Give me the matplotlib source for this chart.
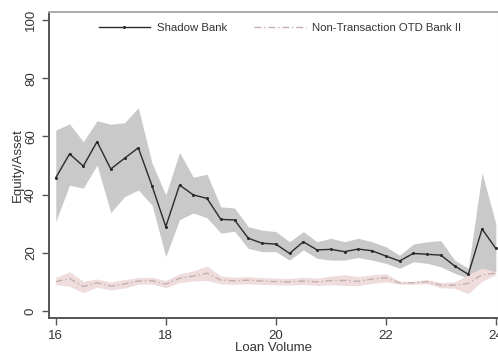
import numpy as np
import matplotlib
matplotlib.use("Agg")
import matplotlib.pyplot as plt

plt.rcParams['font.family'] = ['Liberation Sans', 'DejaVu Sans']

# loan volume grid
loan = [16.0, 16.25, 16.5, 16.75, 17.0, 17.25, 17.5, 17.75, 18.0, 18.25, 18.5,
        18.75, 19.0, 19.25, 19.5, 19.75, 20.0, 20.25, 20.5, 20.75, 21.0, 21.25,
        21.5, 21.75, 22.0, 22.25, 22.5, 22.75, 23.0, 23.25, 23.5, 23.75, 24.0]

# shadow bank: estimate and confidence band
shadow = [45.8, 54.0, 49.8, 58.2, 48.8, 52.5, 56.1, 43.0, 29.0, 43.3, 39.9,
          38.7, 31.5, 31.3, 25.0, 23.3, 23.0, 19.8, 23.8, 21.0, 21.2, 20.4,
          21.3, 20.7, 18.9, 17.2, 19.8, 19.5, 19.2, 15.5, 12.6, 28.2, 21.5]
shadow_hi = [62.2, 64.3, 58.2, 65.4, 64.2, 64.7, 69.9, 50.8, 39.9, 54.5, 46.0,
             47.0, 35.8, 35.4, 29.0, 27.8, 27.3, 23.8, 27.3, 23.8, 25.0, 23.8,
             25.0, 23.8, 22.1, 19.2, 23.0, 23.8, 24.2, 17.5, 14.7, 47.5, 30.0]
shadow_lo = [30.7, 43.3, 42.2, 50.2, 33.8, 39.3, 41.6, 36.4, 18.7, 31.4, 33.7,
             32.0, 26.8, 27.4, 21.5, 20.4, 20.4, 17.5, 21.0, 18.1, 17.5, 17.5,
             18.4, 17.5, 16.4, 14.7, 16.9, 16.4, 15.2, 13.0, 11.2, 11.8, 13.7]

# non-transaction OTD bank II
otd = [10.1, 11.2, 8.4, 9.7, 8.6, 9.3, 10.3, 10.4, 9.2, 11.2, 12.0,
       13.0, 10.6, 10.4, 10.6, 10.3, 10.1, 10.0, 10.3, 10.0, 10.5, 10.5,
       10.2, 11.0, 11.4, 9.7, 9.7, 10.1, 8.9, 8.9, 9.5, 12.5, 13.0]
otd_hi = [11.5, 13.5, 10.2, 11.0, 10.0, 10.8, 11.5, 11.6, 10.5, 12.8, 13.8,
          15.5, 12.0, 11.6, 11.8, 11.5, 11.3, 11.2, 11.6, 11.3, 12.0, 12.5,
          11.8, 12.5, 12.8, 10.2, 10.2, 10.8, 9.8, 10.0, 12.5, 14.8, 13.5]
otd_lo = [9.0, 8.5, 6.3, 8.2, 7.2, 7.9, 9.2, 9.3, 8.0, 9.8, 10.3,
          10.5, 9.3, 9.2, 9.4, 9.1, 9.0, 8.9, 9.1, 8.8, 9.0, 8.8,
          8.7, 9.5, 10.0, 9.2, 9.2, 9.4, 8.0, 7.8, 6.0, 10.2, 12.5]

fig = plt.figure(figsize=(4.98, 3.58), dpi=100)
ax = fig.add_axes([0.098, 0.1117, 0.9016, 0.8547])

ax.fill_between(loan, shadow_lo, shadow_hi, color='#c9c9c9', lw=0)
ax.fill_between(loan, otd_lo, otd_hi, color='#efdcdc', lw=0)
ax.plot(loan, shadow, color='#2b2b2b', lw=1.0, marker='o', ms=1.2,
        label='Shadow Bank')
ax.plot(loan, otd, color='#c4b0b0', lw=1.0, ls=(0, (5, 2, 1, 2)),
        label='Non-Transaction OTD Bank II')

ax.set_xlim(15.873, 24.036)
ax.set_ylim(-2.4, 102.75)
ax.set_xticks([16, 18, 20, 22, 24])
ax.set_yticks([0, 20, 40, 60, 80, 100])
ax.tick_params(axis='both', direction='out', length=5, width=1,
               colors='#555555', labelcolor='#333333', labelsize=9.5)
for lab in ax.get_yticklabels():
    lab.set_rotation(90)
    lab.set_va('center')

ax.set_xlabel('Loan Volume', fontsize=9.5, color='#333333', labelpad=0)
ax.set_ylabel('Equity/Asset', fontsize=9.5, color='#333333', labelpad=1)

for side in ['left', 'bottom']:
    ax.spines[side].set_color('#555555')
    ax.spines[side].set_linewidth(1.4)
ax.spines['top'].set_color('#aaaaaa')
ax.spines['top'].set_linewidth(1.4)
ax.spines['right'].set_color('#dddddd')

ax.legend(loc='upper center', bbox_to_anchor=(0.515, 1.0), ncol=2, frameon=False,
          fontsize=8.2, handlelength=4.5, handletextpad=0.6, columnspacing=2.4,
          borderaxespad=0.6, labelcolor='#333333')

fig.savefig('out.png', dpi=100)
